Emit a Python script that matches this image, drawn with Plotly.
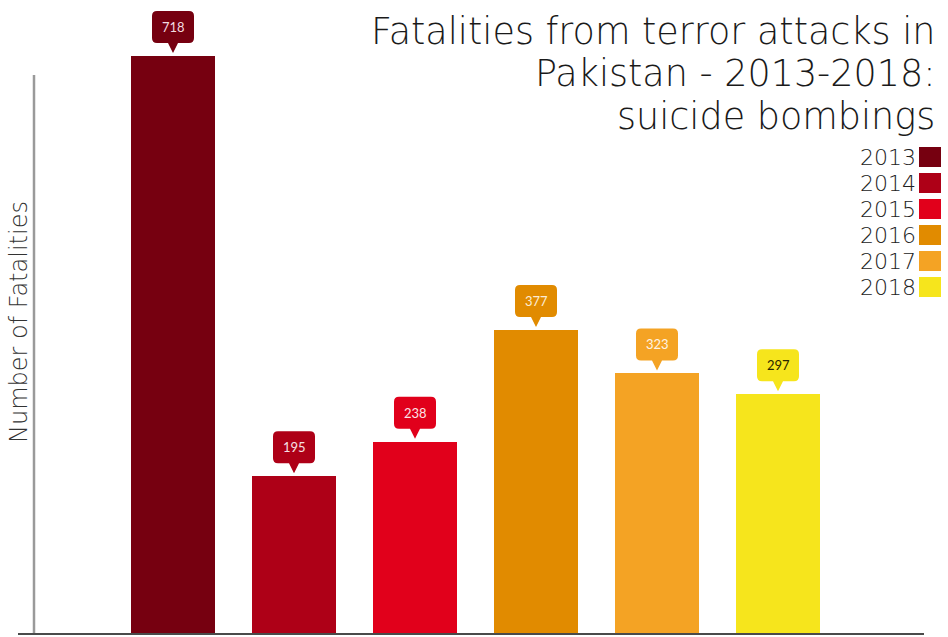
import plotly.graph_objects as go

# Suicide-bombing fatalities in Pakistan per year
years = ["2013", "2014", "2015", "2016", "2017", "2018"]
fatalities = [718, 195, 238, 377, 323, 297]
bar_colors = ["#760010", "#AE0017", "#E1001B", "#E18B00", "#F4A324", "#F6E51C"]
label_colors = ["#F2DCE0", "#F6E0E4", "#FBE3E6", "#FCEBD3", "#FFF4E2", "#2A2600"]

title_lines = ["Fatalities from terror attacks in", "Pakistan - 2013-2018:", "suicide bombings"]
y_title = "Number of Fatalities"

W, H = 948, 637
ML, MR, MT, MB = 34, 24, 0, 4
PW, PH = W - ML - MR, H - MT - MB
THIN = "DejaVu Sans"

def px(x):
    return (x - ML) / PW

def py(y):
    return (H - MB - y) / PH

xs = list(range(len(years)))
fig = go.Figure()
fig.add_trace(go.Bar(
    x=xs, y=fatalities, marker=dict(color=bar_colors, line=dict(width=0)),
    width=0.695, hoverinfo="skip", showlegend=False,
))

# callout bubble (rounded box with a small pointer), pixel offsets above bar top
bw, r = 21, 5
b0, b1, tip = 13, 45, 3
bubble = (f"M 0 {tip} L -5 {b0} L {-bw + r} {b0} Q {-bw} {b0} {-bw} {b0 + r} "
          f"L {-bw} {b1 - r} Q {-bw} {b1} {-bw + r} {b1} L {bw - r} {b1} "
          f"Q {bw} {b1} {bw} {b1 - r} L {bw} {b0 + r} Q {bw} {b0} {bw - r} {b0} "
          f"L 5 {b0} Z")
for i, v in enumerate(fatalities):
    fig.add_shape(type="path", xref="x", yref="y", xsizemode="pixel", ysizemode="pixel",
                  xanchor=i, yanchor=v, path=bubble,
                  fillcolor=bar_colors[i], line=dict(width=0), layer="above")
    fig.add_annotation(x=i, y=v, xref="x", yref="y", text=str(v), showarrow=False,
                       yshift=(b0 + b1) / 2, font=dict(family="Lato", size=13, color=label_colors[i]))

# axis lines
fig.add_shape(type="line", xref="paper", yref="paper", x0=0, x1=0, y0=0, y1=py(75),
              line=dict(color="#9A9A9A", width=2.5))
fig.add_shape(type="line", xref="paper", yref="paper", x0=px(18), x1=px(924), y0=py(634), y1=py(634),
              line=dict(color="#4A4A4A", width=2))

# title, one annotation per line, right aligned
for k, line in enumerate(title_lines):
    fig.add_annotation(xref="paper", yref="paper", x=px(937), y=py(46 + 42.5 * k), text=line,
                       showarrow=False, xanchor="right", yanchor="bottom", yshift=-9,
                       font=dict(family=THIN, size=36.5, color="#1A1A1A", weight=200))

# y axis title
fig.add_annotation(xref="paper", yref="paper", x=px(19), y=py(322), text=y_title,
                   textangle=-90, showarrow=False, xanchor="center", yanchor="middle",
                   font=dict(family=THIN, size=24, color="#333333", weight=200))

# legend: label on the left, swatch on the right
for k, (yr, c) in enumerate(zip(years, bar_colors)):
    cy = 157 + 26 * k
    fig.add_shape(type="rect", xref="paper", yref="paper", x0=px(919), x1=px(941),
                  y0=py(cy + 10), y1=py(cy - 10), fillcolor=c, line=dict(width=0))
    fig.add_annotation(xref="paper", yref="paper", x=px(918), y=py(cy), text=yr,
                       showarrow=False, xanchor="right", yanchor="middle",
                       font=dict(family=THIN, size=22, color="#222222", weight=200))

fig.update_layout(
    width=W, height=H, margin=dict(l=ML, r=MR, t=MT, b=MB),
    paper_bgcolor="white", plot_bgcolor="white",
    xaxis=dict(range=[-(173 - ML) / 121, (924 - 173) / 121], visible=False, fixedrange=True),
    yaxis=dict(range=[0, PH * 718 / 577], visible=False, fixedrange=True),
    bargap=0,
)

fig.write_html("out.html", config={"displayModeBar": False})
